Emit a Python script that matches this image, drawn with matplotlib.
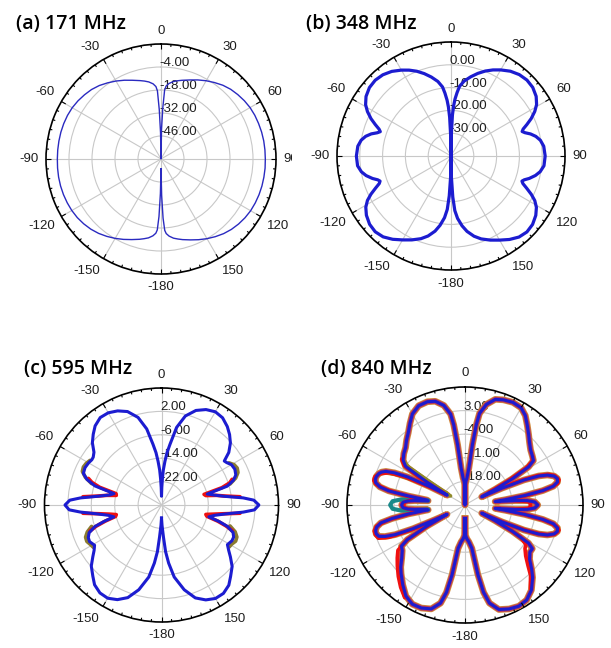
import numpy as np
import matplotlib
matplotlib.use("Agg")
import matplotlib.pyplot as plt
from matplotlib.transforms import offset_copy
from matplotlib.patches import Rectangle

W, H = 611, 648

# ---------------------------------------------------------------- angle axis
theta_ticks = [0, 30, 60, 90, 120, 150, 180, 210, 240, 270, 300, 330]
theta_tick_labels = ["0", "30", "60", "90", "120", "150", "-180",
                     "-150", "-120", "-90", "-60", "-30"]

# ---------------------------------------------------------------- (a) 171 MHz
a_rings = [-46, -32, -18, -4]
a_ring_labels = ["-46.00", "-32.00", "-18.00", "-4.00"]
a_ang_r = [0, 1, 2, 3, 4, 6, 9, 12, 15, 20, 25, 30, 35, 40, 45, 50, 55, 60,
           65, 70, 75, 80, 85, 90, 95, 100, 105, 110, 115, 120, 125, 130, 135,
           140, 145, 150, 155, 160, 165, 168, 171, 174, 176, 177, 178, 179, 180]
a_gain_r = [-60, -42, -29, -18, -15.5, -13.8, -12.3, -11.3, -10.4, -8.8, -6.9,
            -5.0, -3.2, -1.4, 0.0, 1.0, 1.9, 2.6, 3.0, 3.2, 3.4, 3.5, 3.5, 3.5,
            3.6, 3.6, 3.6, 3.5, 3.3, 3.0, 2.4, 1.6, 0.6, -0.7, -2.3, -4.0,
            -5.8, -7.6, -9.2, -10.2, -11.2, -12.8, -14.5, -16.5, -24, -38, -54]
a_ang_l = [0, -1, -2, -3, -4, -6, -9, -12, -15, -20, -25, -30, -35, -40, -45,
           -50, -55, -60, -65, -70, -75, -80, -85, -90, -95, -100, -105, -110,
           -115, -120, -125, -130, -135, -140, -145, -150, -155, -160, -165,
           -168, -171, -174, -176, -177, -178, -179, -180]
a_gain_l = [-60, -44, -30, -18.5, -15.8, -14.0, -12.5, -11.5, -10.6, -9.0,
            -7.1, -5.2, -3.4, -1.6, -0.2, 0.8, 1.7, 2.4, 2.8, 3.0, 3.1, 3.1,
            3.1, 3.1, 3.2, 3.3, 3.3, 3.2, 3.0, 2.7, 2.2, 1.4, 0.4, -0.9, -2.5,
            -4.2, -6.0, -7.8, -9.4, -10.4, -11.4, -13.0, -14.7, -16.8, -25,
            -39, -54]

# ---------------------------------------------------------------- (b) 348 MHz
b_rings = [-30, -20, -10, 0]
b_ring_labels = ["-30.00", "-20.00", "-10.00", "0.00"]
b_ang_r = [0, 1, 2, 3, 4, 5.5, 7, 10, 14, 18, 22, 26, 30, 35, 40, 45, 50, 55,
           59, 62, 65, 67.5, 69.5, 71, 72.5, 74.5, 77, 80, 84, 90, 96, 100, 103,
           106, 108, 109.5, 111, 113, 115.5, 118, 121, 125, 130, 135, 140, 145,
           150, 155, 160, 164, 168, 171, 174, 176, 177.5, 179, 180]
b_gain_r = [-40, -30, -22, -18, -15, -12, -9.2, -6.6, -4.2, -1.9, 0.2, 2.0,
            3.6, 5.4, 6.6, 7.1, 6.8, 5.6, 3.8, 1.6, -1.2, -4.0, -6.2, -7.0,
            -6.0, -3.8, -1.8, -0.2, 0.9, 1.3, 1.0, -0.3, -2.0, -4.3, -6.2,
            -7.0, -6.2, -4.0, -1.0, 1.6, 3.7, 5.4, 6.7, 7.1, 6.4, 4.7, 2.6, 0.7,
            -1.3, -3.4, -6.2, -9.0, -12.5, -16, -22, -31, -40]
b_ang_l = [0, -1, -2, -3, -4, -5.5, -7, -10, -14, -18, -22, -26, -30, -35,
           -40, -45, -50, -55, -59, -62, -65, -67.5, -69.5, -71, -72.5, -74.5,
           -77, -80, -84, -90, -96, -100, -103, -106, -108, -109.5, -111, -113,
           -115.5, -118, -121, -125, -130, -135, -140, -145, -150, -155, -160,
           -164, -168, -171, -174, -176, -177.5, -179, -180]
b_gain_l = [-40, -31, -23, -18.5, -15.5, -12.3, -9.5, -6.8, -4.3, -2.0, 0.1,
            1.9, 3.5, 5.3, 6.5, 7.0, 6.7, 5.5, 3.7, 1.5, -1.3, -4.1, -6.3,
            -7.2, -6.1, -3.7, -1.6, 0.0, 1.1, 1.5, 1.2, -0.1, -1.8, -4.2, -6.2,
            -7.0, -6.3, -4.1, -1.1, 1.5, 3.6, 5.3, 6.6, 7.0, 6.3, 4.6, 2.5, 0.6,
            -1.4, -3.5, -6.3, -9.2, -12.8, -16.5, -22.5, -31, -40]

# ---------------------------------------------------------------- (c) 595 MHz
c_rings = [-22, -14, -6, 2]
c_ring_labels = ["-22.00", "-14.00", "-6.00", "2.00"]
c_ang_r = [0, 1, 2, 3, 4.5, 6, 8, 11, 15, 20, 25, 30, 35, 40, 44, 48, 52, 55,
           57, 60, 64, 68, 71, 74, 76.5, 79, 82, 85, 87, 90, 93, 95, 98, 101,
           104, 106, 108, 111, 114, 117, 121, 124, 127, 131, 136, 140, 145,
           150, 155, 160, 165, 170, 173, 175, 176.5, 178.5, 180]
c_gain_r = [-27, -24, -21, -18, -15, -12, -9, -3, 1.5, 4.4, 6.0, 6.8, 6.4,
            5.0, 3.5, 1.7, -0.8, -3.8, -3.4, -2.4, -2.1, -2.6, -4.0, -6.6,
            -13.9, -12, -8.5, -2, 1.6, 3.3, 1.8, -2, -8, -11.5, -13.3, -9.5,
            -6.3, -3.8, -3.0, -3.0, -3.7, -2.3, -0.5, 2.0, 4.0, 5.8, 6.9, 6.9,
            5.8, 3.8, 0, -5, -10, -14, -19, -23, -25.5]
c_ang_l = [0, -1, -2, -3, -4.5, -6, -8, -11, -15, -20, -25, -30, -35, -40,
           -44, -48, -52, -55, -57, -60, -64, -68, -71, -74, -76.5, -79, -82,
           -85, -87, -90, -93, -95, -98, -101, -104, -106, -108, -111, -114,
           -117, -121, -124, -127, -131, -136, -140, -145, -150, -155, -160,
           -165, -170, -173, -175, -176.5, -178.5, -180]
c_gain_l = [-27, -24, -21, -18, -15, -12, -9, -3.5, 1.0, 4.0, 5.5, 6.4, 6.5,
            5.3, 3.6, 1.8, -0.7, -1.5, -1.6, -1.2, -0.9, -1.2, -3.0, -6.3,
            -13.3, -12, -8.3, -2.2, 1.4, 3.0, 1.6, -2.2, -8, -11.5, -13.2,
            -9.5, -6.0, -3.5, -2.6, -2.4, -3.3, -2.2, -0.6, 1.8, 3.8, 5.6, 6.7,
            6.8, 5.7, 3.7, 0, -5, -10, -14, -19, -23, -25.5]
# other simulated runs where they part from the top trace
c_red_segments = [
    ([70, 72, 74, 76, 78, 80, 82, 84], [-4.3, -5.5, -8.5, -15, -14.5, -11, -8, -3]),
    ([96, 98, 100, 102, 104, 106, 108, 110], [-3, -8.5, -12, -14.5, -14.0, -10, -6.8, -4.2]),
    ([-70, -72, -74, -76, -78, -80, -82, -84], [-3.4, -5.0, -8.0, -14, -14.2, -11, -8, -3]),
    ([-96, -98, -100, -102, -104, -106, -108, -110], [-3, -8.5, -12, -14.2, -13.8, -10, -6.5, -4.0]),
]
c_olive_segments = [
    ([58, 61, 64, 67, 70, 73], [-2.8, -1.6, -1.2, -1.6, -3.0, -5.5]),
    ([107, 110, 113, 116, 119, 122], [-5.5, -3.2, -2.0, -1.8, -2.5, -2.8]),
    ([-58, -61, -64, -67, -70, -73], [-1.2, -0.6, -0.3, -0.6, -2.3, -5.0]),
    ([-107, -110, -113, -116, -119, -122], [-5.0, -3.0, -1.8, -1.6, -2.2, -2.6]),
]

# ---------------------------------------------------------------- (d) 840 MHz
d_rings = [-18, -11, -4, 3]
d_ring_labels = ["-18.00", "-11.00", "-4.00", "3.00"]
d_ang_r = [0, 1, 2, 4, 6, 7, 8, 9, 12, 16, 20, 25, 30, 34, 38, 42, 46, 50, 54,
           57, 59, 61, 62.5, 64, 65.5, 67, 68.5, 70, 72, 74, 76, 78, 79.5, 81,
           82.5, 83.5, 85, 86, 87.5, 90, 92.5, 94, 95, 96.5, 97.5, 99, 100.5,
           102, 104, 106, 108, 110, 111.5, 113, 114.5, 116, 117.5, 119, 121,
           123, 126, 130, 134, 137, 142, 147, 152, 157, 162, 166, 168, 169.5,
           171, 174, 177, 179, 180]
d_gain_r = [-25, -19, -18, -17, -14, -7, -1, 2.5, 5.5, 7.6, 8.2, 8.6, 8.3,
            7.0, 5.0, 3.2, 1.6, 0.4, -0.3, -0.8, -3, -9, -15, -19.5, -13, -6,
            -1.5, 1.0, 2.8, 3.5, 3.3, 1.8, -1.5, -7, -13, -16, -10, -6.5, -4.3,
            -3.4, -4.3, -6.5, -10, -16, -13, -7, -1.5, 1.8, 3.3, 3.5, 2.8, 1.0,
            -1.5, -6, -13, -19.5, -15, -9, -3, -1.2, -1.2, 0, 2.5, 4.4, 7.0,
            8.6, 9.0, 8.5, 7.6, 5.0, 1.5, -4, -12, -14, -15, -16, -21]
d_ang_l = [0, -1, -2, -4, -6, -7, -8, -9, -12, -16, -20, -25, -30, -34, -38,
           -42, -46, -50, -54, -57, -59, -61, -62.5, -64, -65.5, -67, -68.5,
           -70, -72, -74, -76, -78, -79.5, -81, -82.5, -83.5, -85, -86, -87.5,
           -90, -92.5, -94, -95, -96.5, -97.5, -99, -100.5, -102, -104, -106,
           -108, -110, -111.5, -113, -114.5, -116, -117.5, -119, -121, -123,
           -126, -130, -134, -137, -142, -147, -152, -157, -162, -166, -168,
           -169.5, -171, -174, -177, -179, -180]
d_gain_l = [-25, -19, -18, -17, -14, -7, -1, 2.3, 5.2, 7.0, 7.6, 7.5, 6.2,
            4.2, 2.3, 0.9, -0.5, -1.3, -2.3, -4, -12, -19, -13, -6, -2, 0.5,
            1.6, 2.2, 2.6, 2.7, 2.3, 0.8, -2, -8, -13.5, -14, -10, -8, -6.6,
            -6.2, -6.6, -8, -10, -13.5, -14, -8, -3, 0.5, 2.0, 2.6, 2.7, 2.2,
            0.5, -2.5, -8, -15, -19, -12, -5, -2.5, -2.0, -0.5, 1.5, 2.8, 5.0,
            7.2, 8.3, 8.2, 7.4, 5.0, 1.5, -4, -12, -14, -15, -16, -21]
d_red_segments = [
    ([54, 57, 59, 61, 62.5, 64, 66, 68, 70, 72, 75, 77, 79, 81, 83, 85, 87,
      90, 93, 95, 97, 99, 101, 103, 105, 108, 110, 112, 114, 116, 118, 120,
      123, 126, 130, 134, 137, 142],
     [-0.3, -1.2, -4, -11, -17, -15, -8, -2, 1.5, 3.0, 3.9, 3.2, 0, -6, -12,
      -10, -6, -5.5, -6, -10, -13, -7, -0.5, 2.8, 3.9, 3.0, 1.0, -3, -10,
      -17, -12, -6, -3.5, -3.0, -1.5, 1.0, 3.5, 6.5]),
    ([-54, -57, -59, -61, -63, -65, -67, -70, -72.5, -75, -77, -79, -81, -83,
      -85, -87, -90, -93, -95, -97, -99, -101, -103.5, -106, -108.5, -111,
      -113, -115, -117, -119, -121, -124, -128, -132, -137, -142, -147],
     [-1.8, -3.5, -9, -18, -13, -5, -0.5, 2.0, 3.0, 3.0, 2.0, -1.5, -7, -12,
      -9, -7, -6.8, -7, -9, -13, -8, -1.5, 2.0, 3.0, 3.0, 2.5, -0.5, -8, -17,
      -13, -5, -1.0, 0.5, 2.0, 4.0, 6.0, 7.8]),
]
d_teal_segments = [
    ([-83, -85, -87, -90, -93, -95, -97], [-14, -6, -3.5, -2.8, -3.5, -6, -14]),
]
d_olive_segments = [
    ([-54, -56, -58, -60, -62, -64, -66, -68], [-2.0, -5, -20, -16, -12, -9, -3, 1]),
]

BLUE = "#1c1cd0"
TXT = "#1e1e1e"

fig = plt.figure(figsize=(W / 100, H / 100), dpi=100)
fig.patch.set_facecolor("white")


def closed_curve(ang_r, gain_r, ang_l, gain_l):
    """Join the left half (0 .. -180) and the right half (0 .. 180)."""
    th = list(reversed(ang_l))[:-1] + list(ang_r)
    g = list(reversed(gain_l))[:-1] + list(gain_r)
    return np.deg2rad(th), np.asarray(g, dtype=float)


def polar_panel(cx, cy, R, rmin, rmax, rings, ring_labels, title, tx, ty, z=0):
    ax = fig.add_axes([(cx - R) / W, 1 - (cy + R) / H, 2 * R / W, 2 * R / H],
                      projection="polar")
    ax.set_zorder(z)
    ax.set_facecolor("white")
    ax.set_theta_zero_location("N")
    ax.set_theta_direction(-1)
    ax.set_ylim(rmin, rmax)
    ax.set_xticks(np.deg2rad(theta_ticks))
    ax.set_xticklabels([])
    ax.set_yticks(rings)
    ax.set_yticklabels([])
    ax.tick_params(axis="both", length=0)
    ax.grid(True, color="#c8c8c8", linewidth=0.8)
    ax.spines["polar"].set_color("black")
    ax.spines["polar"].set_linewidth(1.2)

    span = rmax - rmin
    for a in range(0, 360, 5):
        L = 5.0 if a % 30 == 0 else 2.5
        ax.plot([np.deg2rad(a)] * 2, [rmax - L / R * span, rmax], color="black",
                lw=0.8, solid_capstyle="butt", clip_on=False, zorder=6)

    k = (R + 7.5) / R
    for a, lab in zip(theta_ticks, theta_tick_labels):
        s, c = np.sin(np.deg2rad(a)), np.cos(np.deg2rad(a))
        ha = "center" if abs(s) < 0.1 else ("left" if s > 0 else "right")
        va = "center" if abs(c) < 0.1 else ("bottom" if c > 0 else "top")
        ax.text(0.5 + 0.5 * k * s, 0.5 + 0.5 * k * c, lab, transform=ax.transAxes,
                ha=ha, va=va, fontsize=9.5, color=TXT, family="Liberation Sans")

    tr = offset_copy(ax.transData, fig=fig, x=-1.5, y=1.0, units="dots")
    for rv, lab in zip(rings, ring_labels):
        ax.text(0, rv, lab, transform=tr, ha="left", va="baseline", fontsize=9.5,
                color=TXT, family="Liberation Sans", zorder=2.5)

    fig.text(tx / W, 1 - ty / H, title, ha="left", va="center", fontsize=14,
             fontweight="semibold", family="Open Sans", color="black", zorder=5)
    return ax


def segments(ax, segs, color, lw, z):
    for ang, g in segs:
        ax.plot(np.deg2rad(ang), g, color=color, lw=lw, zorder=z,
                solid_joinstyle="round", solid_capstyle="round")


# (a)
ax_a = polar_panel(161, 159, 115, -60, 10, a_rings, a_ring_labels,
                   "(a) 171 MHz", 16, 24, z=0)
th, g = closed_curve(a_ang_r, a_gain_r, a_ang_l, a_gain_l)
ax_a.plot(th, g, color="#2a2ac0", lw=1.0, zorder=4, solid_joinstyle="round")

# white backing of the neighbouring panel
fig.add_artist(Rectangle((292 / W, 1 - 330 / H), (W - 292) / W, 330 / H,
                         transform=fig.transFigure, facecolor="white",
                         edgecolor="none", zorder=1))

# (b)
ax_b = polar_panel(451, 156, 114, -40, 10, b_rings, b_ring_labels,
                   "(b) 348 MHz", 306, 24, z=2)
th, g = closed_curve(b_ang_r, b_gain_r, b_ang_l, b_gain_l)
ax_b.plot(th, g, color=BLUE, lw=2.3, zorder=4, solid_joinstyle="round")

# (c)
ax_c = polar_panel(161.5, 505, 117, -30, 10, c_rings, c_ring_labels,
                   "(c) 595 MHz", 24, 369, z=0)
th, g = closed_curve(c_ang_r, c_gain_r, c_ang_l, c_gain_l)
segments(ax_c, c_olive_segments, "#8a7a30", 2.6, 3)
segments(ax_c, c_red_segments, "#ee1010", 2.6, 3.2)
ax_c.plot(th, g, color=BLUE, lw=2.2, zorder=4, solid_joinstyle="round")

# (d)
ax_d = polar_panel(465, 505, 118, -25, 10, d_rings, d_ring_labels,
                   "(d) 840 MHz", 321, 369, z=0)
th, g = closed_curve(d_ang_r, d_gain_r, d_ang_l, d_gain_l)
ax_d.plot(th, g, color="#d08a3c", lw=4.8, zorder=3, solid_joinstyle="round")
ax_d.plot(th, g, color="#b8385a", lw=3.6, zorder=3.05, solid_joinstyle="round")
segments(ax_d, d_olive_segments, "#8f8a2a", 2.4, 3.1)
segments(ax_d, d_teal_segments, "#1a8a8a", 3.0, 3.1)
segments(ax_d, d_red_segments, "#f01010", 2.6, 3.3)
ax_d.plot(th, g, color=BLUE, lw=2.2, zorder=4, solid_joinstyle="round")

fig.savefig("out.png", dpi=100, facecolor="white")
